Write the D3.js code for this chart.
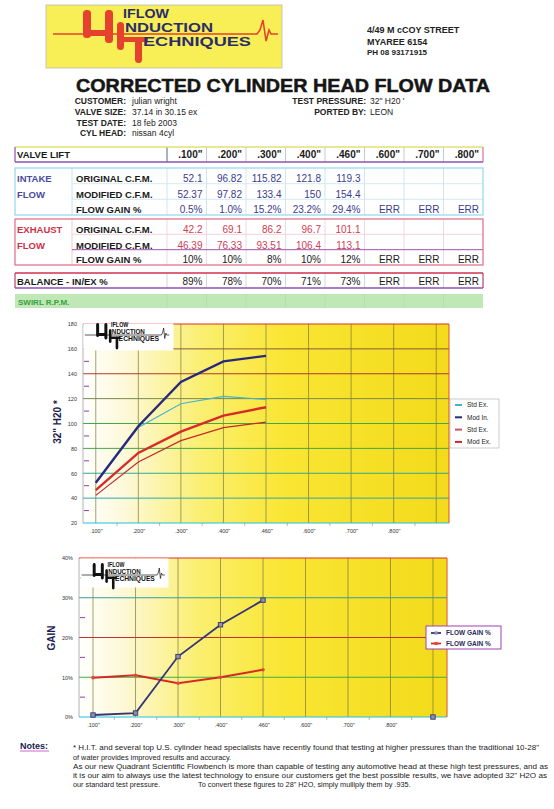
<!DOCTYPE html>
<html>
<head>
<meta charset="utf-8">
<script src="https://cdn.jsdelivr.net/npm/d3@7"></script>
<style>
body { margin: 0; background: #fff; }
svg { display: block; font-family: "Liberation Sans", Arial, sans-serif; }
</style>
</head>
<body>
<svg id="page" width="554" height="809"></svg>
<script>
// table / chart data
var lifts = ['.100"', '.200"', '.300"', '.400"', '.460"', '.600"', '.700"', '.800"'];
var chartCats = lifts.concat([""]);
var intakeOriginal = [52.1, 96.82, 115.82, 121.8, 119.3];
var intakeModified = [52.37, 97.82, 133.4, 150, 154.4];
var intakeGainText = ["0.5%", "1.0%", "15.2%", "23.2%", "29.4%", "ERR", "ERR", "ERR"];
var exhaustOriginal = [42.2, 69.1, 86.2, 96.7, 101.1];
var exhaustModified = [46.39, 76.33, 93.51, 106.4, 113.1];
var exhaustGainText = ["10%", "10%", "8%", "10%", "12%", "ERR", "ERR", "ERR"];
var balanceText = ["89%", "78%", "70%", "71%", "73%", "ERR", "ERR", "ERR"];
var intakeGain = [0.5, 1.0, 15.2, 23.2, 29.4, null, null, null, 0];
var exhaustGain = [9.9, 10.5, 8.5, 10.0, 11.9];
var flowTicks = [20, 40, 60, 80, 100, 120, 140, 160, 180];
var gainTicks = [0, 10, 20, 30, 40];
var flowLegend = ["Std Ex.", "Mod In.", "Std Ex.", "Mod Ex."];
var gainLegend = ["FLOW GAIN %", "FLOW GAIN %"];

var svg = d3.select("#page");
var defs = svg.append("defs");
var grad = defs.append("linearGradient").attr("id", "plotbg")
	.attr("x1", "0").attr("x2", "1").attr("y1", "0").attr("y2", "0");
[[0, "#ffffff"], [0.12, "#fdf8d6"], [0.32, "#fbef72"], [0.55, "#f9e634"], [1, "#f3da1a"]].forEach(function(s) {
	grad.append("stop").attr("offset", s[0]).attr("stop-color", s[1]);
});

function DrawLogo(g, mono) {
	var bar = mono ? "#111" : "#e6412e";
	var txt = mono ? "#111" : "#2c2c6a";
	g.append("path")
		.attr("d", "M53,34 H257 L260,30 L263,20 L266,41 L269,30 L271,34 H278")
		.attr("fill", "none").attr("stroke", bar).attr("stroke-width", 1.6);
	[[83, 10, 8, 28], [105, 10, 8, 33], [117, 22, 7, 28], [135, 37, 7, 26]].forEach(function(b) {
		g.append("rect").attr("x", b[0]).attr("y", b[1]).attr("width", b[2]).attr("height", b[3])
			.attr("rx", 3.5).attr("fill", bar);
	});
	[[88, 30, 22, 6], [121, 37, 27, 5]].forEach(function(b) {
		g.append("rect").attr("x", b[0]).attr("y", b[1]).attr("width", b[2]).attr("height", b[3])
			.attr("rx", 2).attr("fill", bar);
	});
	[["IFLOW", 123, 18, 46], ["NDUCTION", 125, 32, 88], ["ECHNIQUES", 143, 46, 108]].forEach(function(t) {
		g.append("text").attr("x", t[1]).attr("y", t[2])
			.attr("textLength", t[3]).attr("lengthAdjust", "spacingAndGlyphs")
			.style("font-size", "13px").style("font-weight", 700).attr("fill", txt).text(t[0]);
	});
}

// header
svg.append("rect").attr("x", 46).attr("y", 5).attr("width", 236).attr("height", 63)
	.attr("fill", "#f7ef55").attr("stroke", "#bbb").attr("stroke-width", 0.8);
DrawLogo(svg.append("g"), false);

[["4/49  M cCOY STREET", 33, 9], ["MYAREE 6154", 45, 9], ["PH  08  93171915", 55, 8]].forEach(function(a) {
	svg.append("text").attr("x", 367).attr("y", a[1]).style("font-size", a[2] + "px")
		.style("font-weight", 700).attr("fill", "#222").text(a[0]);
});

svg.append("text").attr("x", 76).attr("y", 92)
	.attr("textLength", 414).attr("lengthAdjust", "spacingAndGlyphs")
	.style("font-size", "19px").style("font-weight", 900).attr("fill", "#151515")
	.attr("stroke", "#151515").attr("stroke-width", 0.5)
	.text("CORRECTED CYLINDER HEAD FLOW DATA");

var info = [["CUSTOMER:", "julian wright", 104], ["VALVE SIZE:", "37.14 in 30.15 ex", 115],
	["TEST DATE:", "18 feb 2003", 126], ["CYL HEAD:", "nissan 4cyl", 136]];
info.forEach(function(r) {
	svg.append("text").attr("x", 126).attr("y", r[2]).attr("text-anchor", "end")
		.style("font-size", "8.5px").style("font-weight", 700).attr("fill", "#222").text(r[0]);
	svg.append("text").attr("x", 132).attr("y", r[2])
		.style("font-size", "8.5px").attr("fill", "#222").text(r[1]);
});
[["TEST PRESSURE:", "32\" H20 '", 104], ["PORTED BY:", "LEON", 115]].forEach(function(r) {
	svg.append("text").attr("x", 366).attr("y", r[2]).attr("text-anchor", "end")
		.style("font-size", "8.5px").style("font-weight", 700).attr("fill", "#222").text(r[0]);
	svg.append("text").attr("x", 370).attr("y", r[2])
		.style("font-size", "8.5px").attr("fill", "#222").text(r[1]);
});

// table
var colX = d3.scaleBand().domain(lifts).range([167, 483]);
var tab = svg.append("g");

function hLine(x1, x2, y, color, w) {
	tab.append("line").attr("x1", x1).attr("x2", x2).attr("y1", y).attr("y2", y)
		.attr("stroke", color).attr("stroke-width", w);
}
function vLine(x, y1, y2, color, w) {
	tab.append("line").attr("x1", x).attr("x2", x).attr("y1", y1).attr("y2", y2)
		.attr("stroke", color).attr("stroke-width", w);
}
function cellText(vals, y, color, bold) {
	vals.forEach(function(v, i) {
		tab.append("text").attr("x", colX(lifts[i]) + colX.bandwidth() - 4).attr("y", y)
			.attr("text-anchor", "end").style("font-size", "10px")
			.style("font-weight", bold ? 700 : 400).attr("fill", color).text(String(v));
	});
}
function label(t, x, y, color) {
	tab.append("text").attr("x", x).attr("y", y).style("font-size", "9.5px")
		.style("font-weight", 700).attr("fill", color).text(t);
}

// header row
lifts.forEach(function(l) { vLine(colX(l), 147, 162, "#bbb", 0.8); });
vLine(167, 147, 162, "#7080a0", 1);
hLine(15, 483, 147, "#e2e070", 1.5);
hLine(15, 483, 162, "#9050b0", 1.5);
vLine(15, 147, 162, "#9050b0", 1.2);
vLine(483, 147, 162, "#e070a0", 1.2);
label("VALVE LIFT", 17, 158, "#1a1a1a");
cellText(lifts, 158, "#1a1a1a", true);

// intake block
var inRows = [168, 183.7, 199.3, 215];
lifts.forEach(function(l) { vLine(colX(l), 168, 215, "#c8dde8", 0.8); });
vLine(72, 168, 215, "#b8dcec", 0.8);
hLine(72, 483, inRows[1], "#c8e4f0", 0.8);
hLine(72, 483, inRows[2], "#c8e4f0", 0.8);
tab.append("rect").attr("x", 15).attr("y", 168).attr("width", 468).attr("height", 47)
	.attr("fill", "none").attr("stroke", "#94d6ee").attr("stroke-width", 1.2);
label("INTAKE", 17, 182, "#4a4aa0");
label("FLOW", 17, 197.5, "#4a4aa0");
label("ORIGINAL C.F.M.", 76, 182, "#1a1a1a");
label("MODIFIED C.F.M.", 76, 197.5, "#1a1a1a");
label("FLOW GAIN %", 76, 212.5, "#1a1a1a");
cellText(intakeOriginal, 182, "#3b3b8e", false);
cellText(intakeModified, 197.5, "#3b3b8e", false);
cellText(intakeGainText, 212.5, "#3b3b8e", false);

// exhaust block
var exRows = [219, 234.3, 249.7, 265];
lifts.forEach(function(l) { vLine(colX(l), 219, 265, "#ead0d8", 0.8); });
vLine(72, 219, 265, "#eac0cc", 0.8);
hLine(72, 483, exRows[1], "#f0c8d4", 0.8);
hLine(72, 483, exRows[2], "#a050b0", 1);
tab.append("rect").attr("x", 15).attr("y", 219).attr("width", 468).attr("height", 46)
	.attr("fill", "none").attr("stroke", "#e06a86").attr("stroke-width", 1.2);
label("EXHAUST", 17, 233, "#d0304a");
label("FLOW", 17, 248.5, "#d0304a");
label("ORIGINAL C.F.M.", 76, 233, "#1a1a1a");
label("MODIFIED C.F.M.", 76, 248.5, "#1a1a1a");
label("FLOW GAIN %", 76, 263, "#1a1a1a");
cellText(exhaustOriginal, 233, "#d23c52", false);
cellText(exhaustModified, 248.5, "#d23c52", false);
cellText(exhaustGainText, 263, "#1a1a1a", false);

// balance row
lifts.forEach(function(l) { vLine(colX(l), 273, 288, "#ccc", 0.8); });
hLine(15, 483, 273, "#d03050", 1.5);
hLine(15, 483, 288, "#9050b0", 1.5);
vLine(15, 273, 288, "#b04070", 1.2);
vLine(483, 273, 288, "#b04070", 1.2);
label("BALANCE - IN/EX %", 17, 285, "#1a1a1a");
cellText(balanceText, 285, "#1a1a1a", false);

// swirl row
tab.append("rect").attr("x", 15).attr("y", 294).attr("width", 468).attr("height", 14)
	.attr("fill", "#bfe8b6");
lifts.forEach(function(l) { vLine(colX(l), 294, 308, "#aed8a4", 0.6); });
tab.append("text").attr("x", 18).attr("y", 304.5).style("font-size", "8px")
	.style("font-weight", 700).attr("fill", "#3aa040").text("SWIRL R.P.M.");

// charts
function CreateChart(box, yDomain, yTicks, gridColors, fmt, pad) {
	var g = svg.append("g");
	var x = d3.scalePoint().domain(chartCats).range([box.left, box.right]).padding(pad);
	var y = d3.scaleLinear().domain(yDomain).range([box.bottom, box.top]);

	g.append("rect").attr("x", box.left).attr("y", box.top)
		.attr("width", box.right - box.left).attr("height", box.bottom - box.top)
		.attr("fill", "url(#plotbg)");

	g.selectAll(".vgrid").data(chartCats).enter().append("line")
		.attr("x1", function(d) { return x(d); }).attr("x2", function(d) { return x(d); })
		.attr("y1", box.top).attr("y2", box.bottom)
		.attr("stroke", "#7a7a3a").attr("stroke-width", 0.7);

	g.selectAll(".hgrid").data(yTicks).enter().append("line")
		.attr("x1", box.left).attr("x2", box.right)
		.attr("y1", function(d) { return y(d); }).attr("y2", function(d) { return y(d); })
		.attr("stroke", function(d, i) { return gridColors[i]; }).attr("stroke-width", 1);

	// minor ticks
	var minorY = yTicks.slice(0, -1).map(function(d, i) { return (d + yTicks[i + 1]) / 2; });
	g.selectAll(".my").data(minorY).enter().append("line")
		.attr("x1", box.left + 1).attr("x2", box.left + 6)
		.attr("y1", function(d) { return y(d); }).attr("y2", function(d) { return y(d); })
		.attr("stroke", "#9040a0").attr("stroke-width", 1);
	var step = x.step();
	g.selectAll(".mx").data(chartCats.slice(0, -1)).enter().append("line")
		.attr("x1", function(d) { return x(d) + step / 2; }).attr("x2", function(d) { return x(d) + step / 2; })
		.attr("y1", box.bottom).attr("y2", box.bottom + 3)
		.attr("stroke", "#888").attr("stroke-width", 0.6);

	g.append("line").attr("x1", box.left).attr("x2", box.left).attr("y1", box.top).attr("y2", box.bottom)
		.attr("stroke", "#a0a0a0").attr("stroke-width", 0.8);
	g.append("line").attr("x1", box.right).attr("x2", box.right).attr("y1", box.top).attr("y2", box.bottom)
		.attr("stroke", "#e05020").attr("stroke-width", 1);

	var ya = g.append("g").attr("transform", "translate(" + box.left + ",0)")
		.call(d3.axisLeft(y).tickValues(yTicks).tickFormat(fmt).tickSize(0).tickPadding(6));
	var xa = g.append("g").attr("transform", "translate(0," + box.bottom + ")")
		.call(d3.axisBottom(x).tickSize(0).tickPadding(6));
	[ya, xa].forEach(function(a) {
		a.select(".domain").remove();
		a.selectAll("text").style("font-size", "5.5px").attr("fill", "#333")
			.style("font-family", "\"Liberation Sans\", Arial, sans-serif");
	});
	return { g: g, x: x, y: y };
}

// flow chart
var flow = CreateChart({ left: 83, right: 449, top: 324, bottom: 523 }, [20, 180], flowTicks,
	["#20c0e0", "#30a8a8", "#30a890", "#44a844", "#44a844", "#788a50", "#b03a28", "#8a5a38", "#e03020"],
	function(d) { return d; }, 0.3);

var flowSeries = [
	{ values: intakeOriginal, color: "#45b2d2", width: 1.1 },
	{ values: intakeModified, color: "#2a2a7c", width: 2.4 },
	{ values: exhaustOriginal, color: "#c42a2a", width: 1.2 },
	{ values: exhaustModified, color: "#d82a28", width: 2.4 }
];
var flowLine = d3.line().x(function(d, i) { return flow.x(chartCats[i]); }).y(function(d) { return flow.y(d); });
flowSeries.forEach(function(s) {
	flow.g.append("path").attr("d", flowLine(s.values)).attr("fill", "none")
		.attr("stroke", s.color).attr("stroke-width", s.width);
});

var logo1 = svg.append("g");
logo1.append("rect").attr("x", 83.5).attr("y", 323.5).attr("width", 90).attr("height", 27).attr("fill", "#fff");
DrawLogo(logo1.append("g").attr("transform", "translate(65,318) scale(0.375,0.5)"), true);

flow.g.append("text").attr("transform", "translate(61,422) rotate(-90)")
	.attr("text-anchor", "middle").style("font-size", "10px").style("font-weight", 700)
	.attr("fill", "#1e1e50").text("32\" H20 *");

var leg1 = svg.append("g");
leg1.append("rect").attr("x", 450).attr("y", 399).attr("width", 49).attr("height", 49)
	.attr("fill", "#fff").attr("stroke", "#aaa").attr("stroke-width", 0.6);
var legColors1 = ["#45b2d2", "#2a2a7c", "#d05064", "#c82828"];
flowLegend.forEach(function(t, i) {
	var yy = 405 + i * 12.3;
	leg1.append("line").attr("x1", 455).attr("x2", 462).attr("y1", yy).attr("y2", yy)
		.attr("stroke", legColors1[i]).attr("stroke-width", 2);
	leg1.append("text").attr("x", 467).attr("y", yy + 2.2).style("font-size", "6.5px")
		.attr("fill", "#222").text(t);
});

// gain chart
var gain = CreateChart({ left: 79, right: 447, top: 558, bottom: 717 }, [0, 40], gainTicks,
	["#20c0e0", "#40b040", "#c83030", "#30a0a0", "#e03020"],
	function(d) { return d + "%"; }, 0.33);

var gainLine = d3.line().defined(function(d) { return d != null; })
	.x(function(d, i) { return gain.x(chartCats[i]); }).y(function(d) { return gain.y(d); });
gain.g.append("path").attr("d", gainLine(exhaustGain)).attr("fill", "none")
	.attr("stroke", "#d42a26").attr("stroke-width", 2);
gain.g.append("path").attr("d", gainLine(intakeGain)).attr("fill", "none")
	.attr("stroke", "#34347a").attr("stroke-width", 1.8);
exhaustGain.forEach(function(v, i) {
	gain.g.append("circle").attr("cx", gain.x(chartCats[i])).attr("cy", gain.y(v)).attr("r", 1.8)
		.attr("fill", "#e04a3a");
});
intakeGain.forEach(function(v, i) {
	if (v == null) return;
	gain.g.append("rect").attr("x", gain.x(chartCats[i]) - 2.2).attr("y", gain.y(v) - 2.2)
		.attr("width", 4.4).attr("height", 4.4).attr("fill", "#9090a8")
		.attr("stroke", "#34347a").attr("stroke-width", 0.9);
});

var logo2 = svg.append("g");
logo2.append("rect").attr("x", 80.5).attr("y", 558.5).attr("width", 88).attr("height", 29).attr("fill", "#fff");
DrawLogo(logo2.append("g").attr("transform", "translate(62,558) scale(0.37,0.5)"), true);

gain.g.append("text").attr("transform", "translate(55,638) rotate(-90)")
	.attr("text-anchor", "middle").style("font-size", "10px").style("font-weight", 700)
	.attr("fill", "#1e1e50").text("GAIN");

var leg2 = svg.append("g");
leg2.append("rect").attr("x", 426).attr("y", 626).attr("width", 75).attr("height", 23)
	.attr("fill", "#fff").attr("stroke", "#a040b8").attr("stroke-width", 1);
var legColors2 = ["#34347a", "#d42a26"];
gainLegend.forEach(function(t, i) {
	var yy = 633 + i * 10.5;
	leg2.append("line").attr("x1", 431).attr("x2", 441).attr("y1", yy).attr("y2", yy)
		.attr("stroke", legColors2[i]).attr("stroke-width", 1.8);
	leg2.append("rect").attr("x", 434.5).attr("y", yy - 1.6).attr("width", 3.2).attr("height", 3.2)
		.attr("fill", i === 0 ? "#9090a8" : "#e04a3a");
	leg2.append("text").attr("x", 446).attr("y", yy + 2.3).style("font-size", "6.5px")
		.style("font-weight", 700).attr("fill", "#2a2a5a").text(t);
});

// notes
svg.append("text").attr("x", 20).attr("y", 749).style("font-size", "9px").style("font-weight", 700)
	.attr("fill", "#1a1a50").text("Notes:");
svg.append("line").attr("x1", 20).attr("x2", 49).attr("y1", 751).attr("y2", 751)
	.attr("stroke", "#c040c0").attr("stroke-width", 0.8);

var noteLines = [
	["* H.I.T. and several top U.S. cylinder head specialists have recently found that testing at higher pressures than the traditional 10-28\"", 73, 750, 466],
	["of water provides improved results and accuracy.", 73, 759.5, 0],
	["As our new Quadrant Scientific Flowbench is more than capable of testing any automotive head at these high test pressures, and as", 73, 769, 475],
	["it is our aim to always use the latest technology to ensure our customers get the best possible results, we have adopted 32\" H2O as", 73, 778, 474],
	["our standard test pressure.", 73, 787, 0],
	["To convert these figures to 28\" H2O, simply mulliply them by .935.", 198, 787, 0]
];
noteLines.forEach(function(n) {
	var t = svg.append("text").attr("x", n[1]).attr("y", n[2]).style("font-size", "7.3px")
		.attr("fill", "#222").text(n[0]);
	if (n[3]) t.attr("textLength", n[3]).attr("lengthAdjust", "spacingAndGlyphs");
});
</script>
</body>
</html>
